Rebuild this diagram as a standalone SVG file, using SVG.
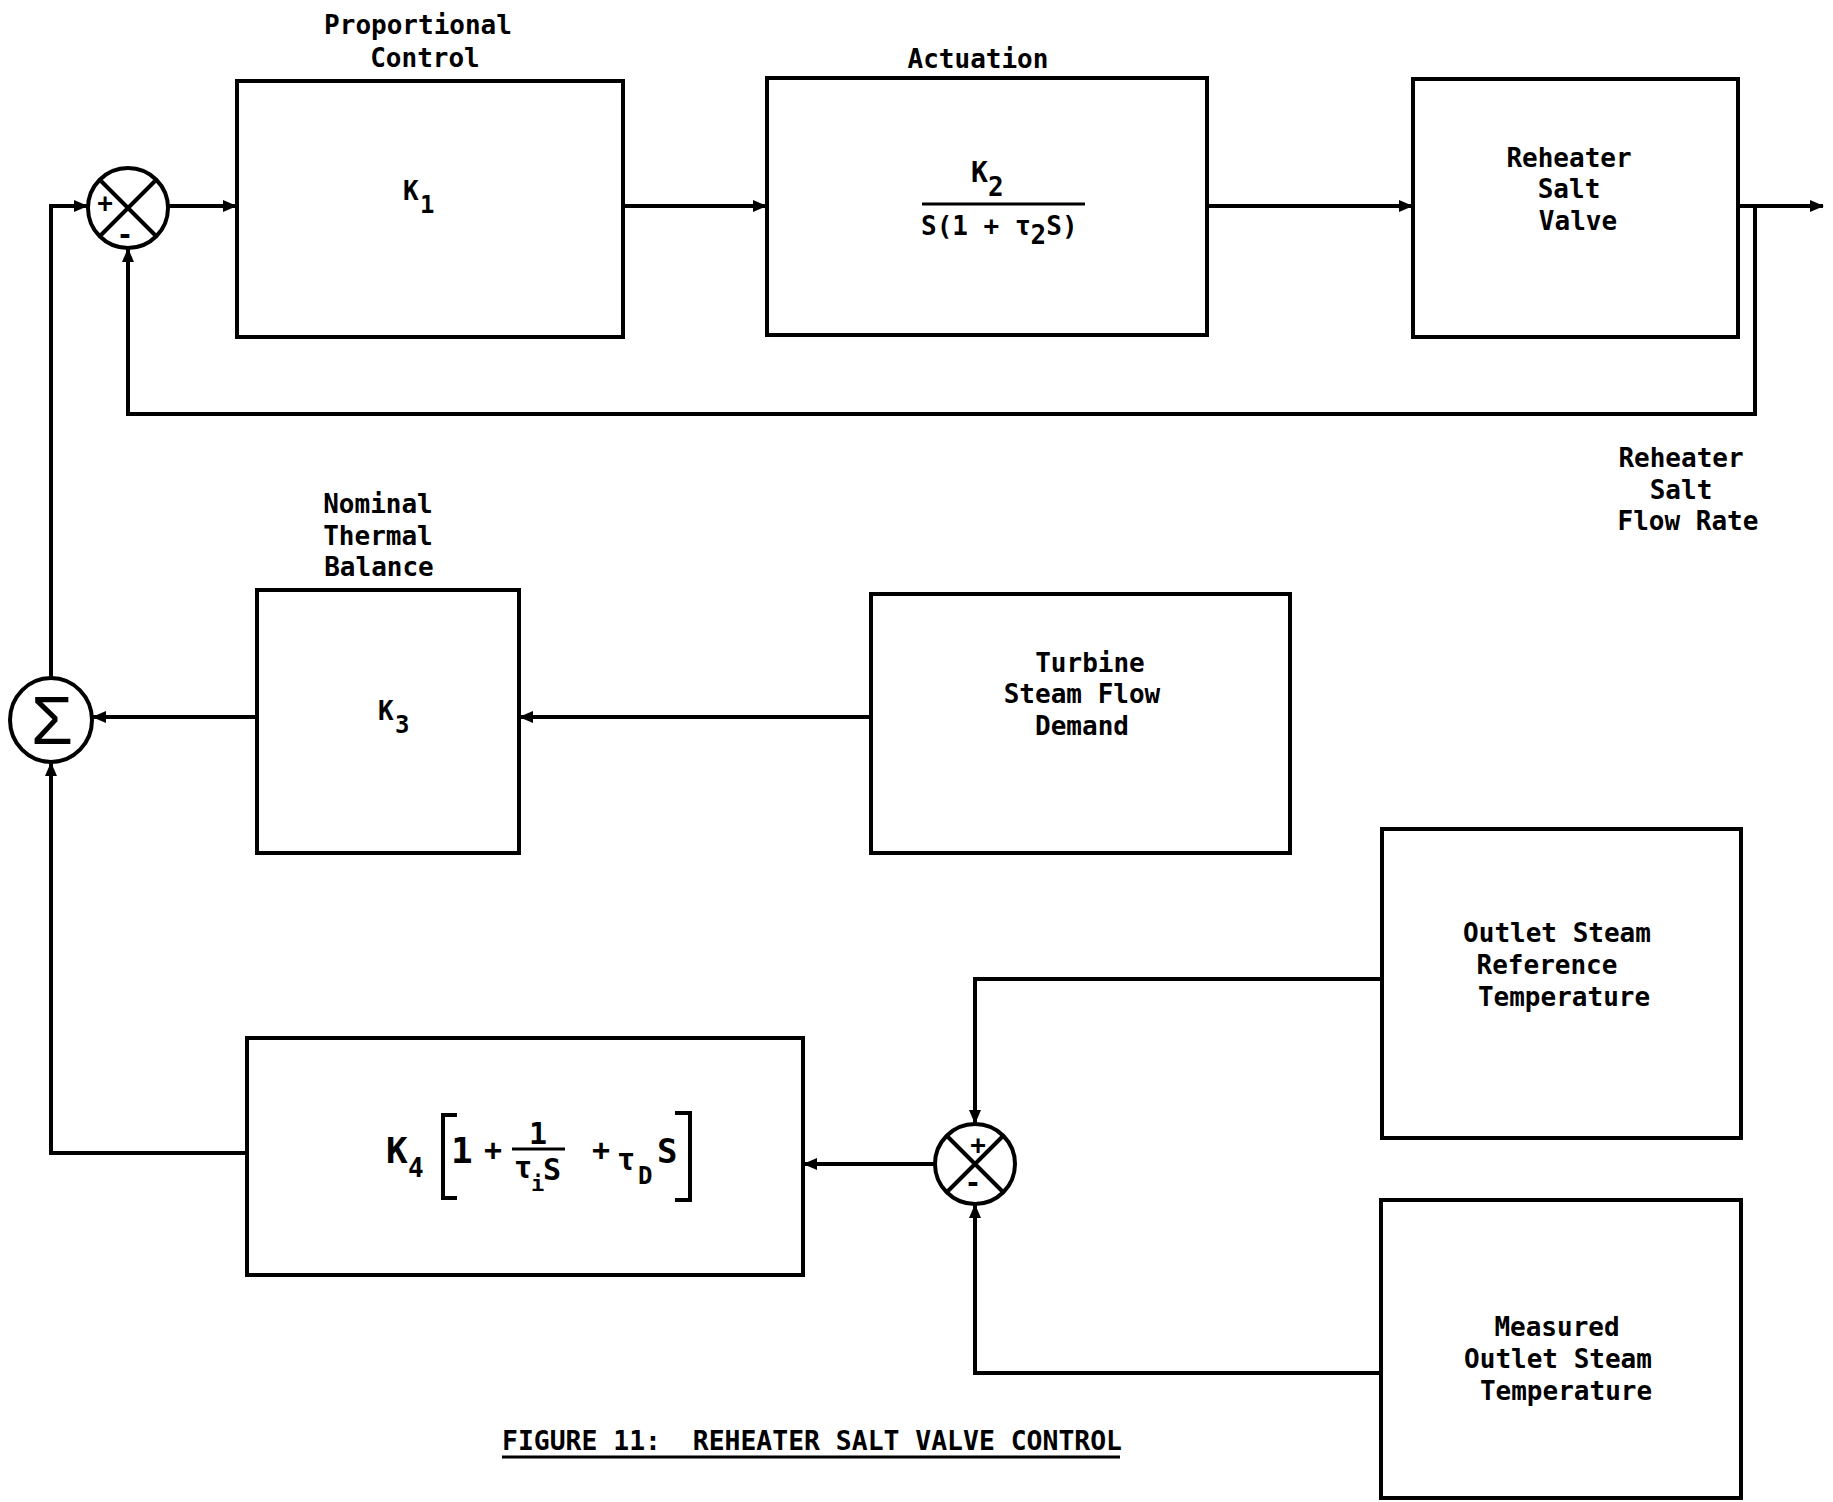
<svg xmlns="http://www.w3.org/2000/svg" width="1833" height="1502" viewBox="0 0 1833 1502">
<defs>
<style>
.bg{fill:#fff}
.box{fill:none;stroke:#000;stroke-width:4}
.ln{fill:none;stroke:#000;stroke-width:4}
.thin{fill:none;stroke:#000;stroke-width:3}
.t{font-family:"DejaVu Sans Mono","Liberation Mono",monospace;font-weight:bold;font-size:26px;fill:#000}
.c{text-anchor:middle}
.sig{font-family:"Liberation Sans",Arial,sans-serif;font-size:68px;fill:#000;text-anchor:middle}
</style>
<marker id="ah" markerUnits="userSpaceOnUse" markerWidth="14" markerHeight="12" refX="13" refY="6" orient="auto">
<path d="M0,0 L14,6 L0,12 z" fill="#000"/>
</marker>
</defs>
<rect class="bg" x="0" y="0" width="1833" height="1502"/>

<g id="connectors">
<path class="ln" d="M51,678 V206 H87" marker-end="url(#ah)"/>
<path class="ln" d="M168,206 H236" marker-end="url(#ah)"/>
<path class="ln" d="M623,206 H766" marker-end="url(#ah)"/>
<path class="ln" d="M1207,206 H1412" marker-end="url(#ah)"/>
<path class="ln" d="M1738,206 H1823" marker-end="url(#ah)"/>
<path class="ln" d="M1755,206 V414 H128 V249" marker-end="url(#ah)"/>
<path class="ln" d="M871,717 H520" marker-end="url(#ah)"/>
<path class="ln" d="M257,717 H93" marker-end="url(#ah)"/>
<path class="ln" d="M247,1153 H51 V763" marker-end="url(#ah)"/>
<path class="ln" d="M1382,979 H975 V1123" marker-end="url(#ah)"/>
<path class="ln" d="M1381,1373 H975 V1205" marker-end="url(#ah)"/>
<path class="ln" d="M935,1164 H804" marker-end="url(#ah)"/>
</g>

<g id="sum1">
<circle class="ln" cx="128" cy="208" r="40"/>
<path class="ln" d="M100,180 L156,236 M156,180 L100,236"/>
<text class="t c" x="105" y="212" style="font-size:26px">+</text>
<text class="t c" x="125" y="244" style="font-size:28px">-</text>
</g>

<g id="proportional">
<text class="t c" x="418" y="34">Proportional</text>
<text class="t c" x="425" y="67">Control</text>
<rect class="box" x="237" y="81" width="386" height="256"/>
<text class="t" x="403" y="200">K<tspan x="420" y="213" style="font-size:24px">1</tspan></text>
</g>

<g id="actuation">
<text class="t c" x="978" y="68">Actuation</text>
<rect class="box" x="767" y="78" width="440" height="257"/>
<text class="t" x="971" y="182" style="font-size:28px">K<tspan x="988" y="196" style="font-size:26px">2</tspan></text>
<path class="thin" d="M922,204 H1085"/>
<text class="t" x="921" y="235">S(1 + τ<tspan dy="9">2</tspan><tspan dy="-9">S)</tspan></text>
</g>

<g id="valve">
<rect class="box" x="1413" y="79" width="325" height="258"/>
<text class="t c" x="1569" y="167">Reheater</text>
<text class="t c" x="1569" y="198">Salt</text>
<text class="t c" x="1578" y="230">Valve</text>
</g>

<g id="flowrate-label">
<text class="t c" x="1681" y="467">Reheater</text>
<text class="t c" x="1681" y="499">Salt</text>
<text class="t c" x="1688" y="530">Flow Rate</text>
</g>

<g id="sigma">
<ellipse class="ln" cx="51" cy="720" rx="41" ry="42"/>
<text class="sig" x="52" y="744">Σ</text>
</g>

<g id="thermal">
<text class="t c" x="378" y="513">Nominal</text>
<text class="t c" x="378" y="545">Thermal</text>
<text class="t c" x="379" y="576">Balance</text>
<rect class="box" x="257" y="590" width="262" height="263"/>
<text class="t" x="378" y="720">K<tspan x="395" y="733" style="font-size:24px">3</tspan></text>
</g>

<g id="turbine">
<rect class="box" x="871" y="594" width="419" height="259"/>
<text class="t c" x="1090" y="672">Turbine</text>
<text class="t c" x="1082" y="703">Steam Flow</text>
<text class="t c" x="1082" y="735">Demand</text>
</g>

<g id="pid">
<rect class="box" x="247" y="1038" width="556" height="237"/>
<text class="t" x="386" y="1163" style="font-size:36px">K<tspan x="408" y="1177" style="font-size:26px">4</tspan></text>
<path class="ln" d="M457,1115 H443 V1198 H457"/>
<text class="t" x="451" y="1163" style="font-size:36px">1</text>
<text class="t" x="484" y="1160" style="font-size:30px">+</text>
<text class="t c" x="538" y="1144" style="font-size:30px">1</text>
<path class="thin" d="M512,1149 H565"/>
<text class="t" x="514" y="1178" style="font-size:30px">τ<tspan x="531" y="1191" style="font-size:22px">i</tspan><tspan x="543" y="1180" style="font-size:30px">S</tspan></text>
<text class="t" x="592" y="1160" style="font-size:30px">+</text>
<text class="t" x="617" y="1170" style="font-size:30px">τ<tspan x="638" y="1184" style="font-size:24px">D</tspan></text>
<text class="t" x="657" y="1163" style="font-size:34px">S</text>
<path class="ln" d="M675,1113 H690 V1200 H675"/>
</g>

<g id="sum2">
<circle class="ln" cx="975" cy="1164" r="40"/>
<path class="ln" d="M947,1136 L1003,1192 M1003,1136 L947,1192"/>
<text class="t c" x="978" y="1154" style="font-size:26px">+</text>
<text class="t c" x="973" y="1192" style="font-size:28px">-</text>
</g>

<g id="reference">
<rect class="box" x="1382" y="829" width="359" height="309"/>
<text class="t c" x="1557" y="942">Outlet Steam</text>
<text class="t c" x="1547" y="974">Reference</text>
<text class="t c" x="1564" y="1006">Temperature</text>
</g>

<g id="measured">
<rect class="box" x="1381" y="1200" width="360" height="298"/>
<text class="t c" x="1557" y="1336">Measured</text>
<text class="t c" x="1558" y="1368">Outlet Steam</text>
<text class="t c" x="1566" y="1400">Temperature</text>
</g>

<g id="title">
<text class="t" x="502" y="1450" xml:space="preserve" textLength="620" lengthAdjust="spacingAndGlyphs">FIGURE 11:  REHEATER SALT VALVE CONTROL</text>
<path class="thin" d="M502,1457 H1120"/>
</g>
</svg>
